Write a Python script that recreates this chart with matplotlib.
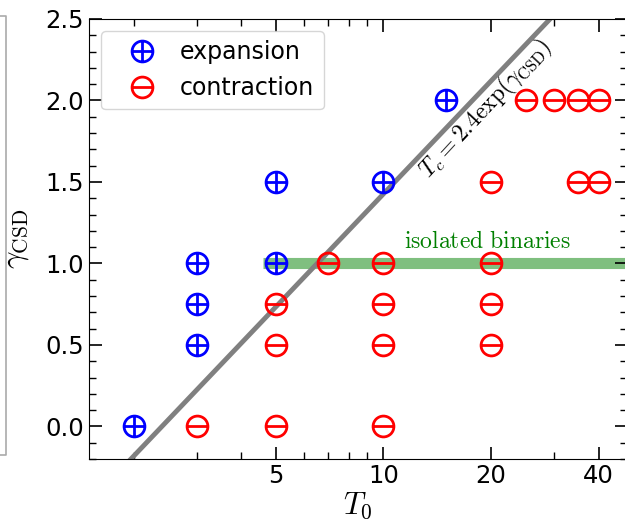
import numpy as np
import matplotlib
matplotlib.use("Agg")
import matplotlib.pyplot as plt
from matplotlib.ticker import FixedLocator, NullFormatter, ScalarFormatter, LogLocator, MultipleLocator
from matplotlib.lines import Line2D
from matplotlib.path import Path

# expansion points (T0, gamma_CSD)
exp_T0 = [2, 3, 3, 3, 5, 5, 10, 15]
exp_gam = [0.0, 0.5, 0.75, 1.0, 1.0, 1.5, 1.5, 2.0]

# contraction points
con_T0 = [3, 5, 5, 5, 7, 10, 10, 10, 10, 20, 20, 20, 20, 25, 30, 35, 40, 35, 40]
con_gam = [0.0, 0.0, 0.5, 0.75, 1.0, 0.0, 0.5, 0.75, 1.0, 0.5, 0.75, 1.0, 1.5,
           2.0, 2.0, 2.0, 2.0, 1.5, 1.5]

xticks = [5, 10, 20, 40]
yticks = [0.0, 0.5, 1.0, 1.5, 2.0, 2.5]

# circled plus / minus markers
hbar = Path([(-1, 0), (1, 0)], [Path.MOVETO, Path.LINETO])
vbar = Path([(0, -1), (0, 1)], [Path.MOVETO, Path.LINETO])
oplus = Path.make_compound_path(Path.unit_circle(), hbar, vbar)
ominus = Path.make_compound_path(Path.unit_circle(), hbar)

fig = plt.figure(figsize=(6.25, 5.26), dpi=100)
ax = fig.add_axes([89/625, 67/526, 538/625, 440/526])

# Tc = 2.4 exp(gamma) line
g = np.linspace(-0.2, 2.5, 50)
ax.plot(2.4*np.exp(g), g, color='gray', lw=3.5, zorder=2)

# isolated binaries band
ax.plot([4.6, 60], [1.0, 1.0], color='green', alpha=0.5, lw=8, solid_capstyle='butt', zorder=1)
ax.text(19.6, 1.14, r'$\mathrm{isolated\ binaries}$', color='green', fontsize=17,
        math_fontfamily='cm', ha='center', va='center')

ax.plot(exp_T0, exp_gam, ls='none', marker=oplus, ms=15, mew=2, mfc='none',
        mec='blue', label='expansion', zorder=3)
ax.plot(con_T0, con_gam, ls='none', marker=ominus, ms=15, mew=2, mfc='none',
        mec='red', label='contraction', zorder=3)

ax.text(19.4, 1.95, r'$T_c = 2.4 \exp(\gamma_{\rm CSD})$', fontsize=17,
        rotation=47, ha='center', va='center',
        math_fontfamily='cm')

ax.set_xscale('log')
ax.set_xlim(1.5, 48)
ax.set_ylim(-0.2, 2.5)
ax.xaxis.set_major_locator(FixedLocator(xticks))
ax.xaxis.set_major_formatter(ScalarFormatter())
ax.xaxis.set_minor_locator(LogLocator(base=10, subs=np.arange(2, 10)))
ax.xaxis.set_minor_formatter(NullFormatter())
ax.set_yticks(yticks)
ax.yaxis.set_minor_locator(MultipleLocator(0.1))
ax.tick_params(which='both', direction='in', top=True, right=True, labelsize=17.5)
ax.tick_params(which='major', length=9, width=1.2)
ax.tick_params(which='minor', length=5, width=1)

ax.set_xlabel(r'$T_0$', fontsize=22, math_fontfamily='cm', labelpad=2)
ax.set_ylabel(r'$\gamma_{\rm CSD}$', fontsize=22, math_fontfamily='cm', labelpad=10)

ax.legend(loc='upper left', fontsize=17, handlelength=2.7, handletextpad=0.25,
          borderpad=0.4, labelspacing=0.5, borderaxespad=0.5,
          bbox_to_anchor=(0.0, 1.0))

# edge of neighbouring panel box
fig.add_artist(Line2D([0, 6/625, 6/625, 0], [1-16/526, 1-16/526, 1-455/526, 1-455/526],
                      color='#aaaaaa', lw=1.2))

fig.savefig('out.png', dpi=100)
